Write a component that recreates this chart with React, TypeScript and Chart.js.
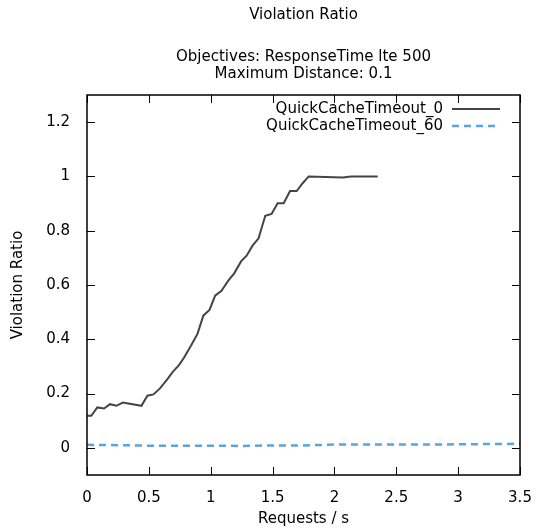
import React, { useEffect, useRef } from "react";
import { Chart, registerables } from "chart.js";

Chart.register(...registerables);

const titleText = "Violation Ratio";
const subtitleLines = ["Objectives: ResponseTime lte 500", "Maximum Distance: 0.1"];
const xAxisTitle = "Requests / s";
const yAxisTitle = "Violation Ratio";
const seriesNames = ["QuickCacheTimeout_0", "QuickCacheTimeout_60"];

const xTicks = [0, 0.5, 1, 1.5, 2, 2.5, 3, 3.5];
const yTicks = [0, 0.2, 0.4, 0.6, 0.8, 1, 1.2];

const timeout0X = [0, 0.035, 0.083, 0.138, 0.186, 0.237, 0.29, 0.44, 0.488, 0.537, 0.59, 0.65, 0.69, 0.745, 0.785, 0.84, 0.893, 0.94, 0.99, 1.036, 1.087, 1.142, 1.19, 1.245, 1.29, 1.338, 1.387, 1.441, 1.492, 1.541, 1.59, 1.641, 1.695, 1.743, 1.792, 2.067, 2.135, 2.35];
const timeout0Y = [0.118, 0.118, 0.149, 0.145, 0.161, 0.155, 0.167, 0.155, 0.192, 0.197, 0.219, 0.253, 0.278, 0.306, 0.333, 0.376, 0.42, 0.487, 0.508, 0.561, 0.579, 0.616, 0.643, 0.687, 0.708, 0.745, 0.772, 0.855, 0.862, 0.901, 0.901, 0.946, 0.946, 0.975, 1.0, 0.996, 1.0, 1.0];

const timeout60X = [0, 0.25, 0.5, 0.75, 1.0, 1.25, 1.5, 1.75, 2.0, 2.5, 3.0, 3.5];
const timeout60Y = [0.011, 0.01, 0.008, 0.008, 0.008, 0.007, 0.009, 0.009, 0.012, 0.012, 0.013, 0.015];

const FONT = "DejaVu Sans";
const FS = 15;
const BLACK_LINE = "#444444";
const BLUE_LINE = "#5ba3dd";

const overlayPlugin = {
  id: "overlay",
  afterDraw(chart: any) {
    const ctx = chart.ctx;
    const a = chart.chartArea;
    const xs = chart.scales.x;
    const ys = chart.scales.y;
    ctx.save();
    ctx.strokeStyle = "#000";
    ctx.lineWidth = 1.5;
    ctx.strokeRect(a.left, a.top, a.right - a.left, a.bottom - a.top);
    ctx.lineWidth = 1;
    const tl = 8;
    ctx.beginPath();
    xTicks.forEach((v) => {
      const px = Math.round(xs.getPixelForValue(v)) + 0.5;
      ctx.moveTo(px, a.bottom);
      ctx.lineTo(px, a.bottom - tl);
      ctx.moveTo(px, a.top);
      ctx.lineTo(px, a.top + tl);
    });
    yTicks.forEach((v) => {
      const py = Math.round(ys.getPixelForValue(v)) + 0.5;
      ctx.moveTo(a.left, py);
      ctx.lineTo(a.left + tl, py);
      ctx.moveTo(a.right, py);
      ctx.lineTo(a.right - tl, py);
    });
    ctx.stroke();

    ctx.fillStyle = "#000";
    ctx.font = `${FS}px "${FONT}"`;
    ctx.textAlign = "center";
    ctx.textBaseline = "middle";
    const cx = (a.left + a.right) / 2;
    ctx.fillText(titleText, cx, 15);
    subtitleLines.forEach((l, i) => ctx.fillText(l, cx, 57 + i * 17));
    ctx.fillText(xAxisTitle, cx, 519);
    ctx.save();
    ctx.translate(18, (a.top + a.bottom) / 2);
    ctx.rotate(-Math.PI / 2);
    ctx.fillText(yAxisTitle, 0, 0);
    ctx.restore();

    ctx.textAlign = "right";
    const rows = [
      { y: 109, color: BLACK_LINE, dash: [] as number[], w: 2 },
      { y: 126, color: BLUE_LINE, dash: [7, 5], w: 2.5 },
    ];
    rows.forEach((r, i) => {
      ctx.fillStyle = "#000";
      ctx.fillText(seriesNames[i], 443, r.y);
      ctx.strokeStyle = r.color;
      ctx.lineWidth = r.w;
      ctx.setLineDash(r.dash);
      ctx.beginPath();
      ctx.moveTo(452, r.y);
      ctx.lineTo(500, r.y);
      ctx.stroke();
      ctx.setLineDash([]);
    });
    ctx.restore();
  },
};

export default function App() {
  const ref = useRef<HTMLCanvasElement | null>(null);
  useEffect(() => {
    if (!ref.current) return;
    const chart = new Chart(ref.current, {
      type: "line",
      data: {
        datasets: [
          {
            label: seriesNames[0],
            data: timeout0X.map((x, i) => ({ x, y: timeout0Y[i] })),
            borderColor: BLACK_LINE,
            borderWidth: 2,
            pointRadius: 0,
            tension: 0,
          },
          {
            label: seriesNames[1],
            data: timeout60X.map((x, i) => ({ x, y: timeout60Y[i] })),
            borderColor: BLUE_LINE,
            borderWidth: 2.5,
            borderDash: [7, 5],
            pointRadius: 0,
            tension: 0,
          },
        ],
      },
      options: {
        responsive: false,
        animation: false,
        layout: { padding: { left: 0, right: 17, top: 95, bottom: 0 } },
        plugins: {
          legend: { display: false },
          title: { display: false },
          tooltip: { enabled: false },
        },
        scales: {
          x: {
            type: "linear",
            min: 0,
            max: 3.5,
            border: { display: false },
            grid: { display: false },
            afterBuildTicks: (s: any) => {
              s.ticks = xTicks.map((v) => ({ value: v }));
            },
            afterFit: (s: any) => {
              s.height = 55;
              s.paddingLeft = 0;
              s.paddingRight = 0;
            },
            ticks: {
              padding: 6,
              color: "#000",
              maxRotation: 0,
              autoSkip: false,
              font: { family: FONT, size: FS },
              callback: (v: any) => String(v),
            },
          },
          y: {
            type: "linear",
            min: -0.1,
            max: 1.3,
            border: { display: false },
            grid: { display: false },
            afterBuildTicks: (s: any) => {
              s.ticks = yTicks.map((v) => ({ value: v }));
            },
            afterFit: (s: any) => {
              s.width = 87;
              s.paddingTop = 0;
              s.paddingBottom = 0;
            },
            ticks: {
              padding: 9,
              color: "#000",
              autoSkip: false,
              font: { family: FONT, size: FS },
              callback: (v: any) => String(v),
            },
          },
        },
      },
      plugins: [overlayPlugin],
    });
    return () => chart.destroy();
  }, []);
  return (
    <div style={{ position: "absolute", left: 0, top: 0, width: 537, height: 530, background: "#fff" }}>
      <canvas ref={ref} width={537} height={530} />
    </div>
  );
}
